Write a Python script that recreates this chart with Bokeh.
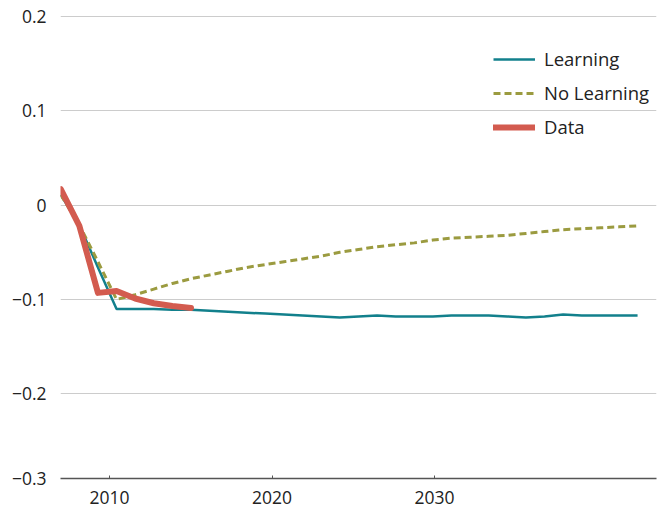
from bokeh.plotting import figure
from bokeh.models import Range1d, FixedTicker, Legend, LegendItem
from bokeh.embed import file_html
from bokeh.resources import INLINE

# ---- data ----
start_year = 2007.0
year_step = 1.145          # spacing between successive observations (years)
n_points = 32
years = [start_year + year_step * i for i in range(n_points)]

learning = [0.011, -0.021, -0.066, -0.110, -0.110, -0.110, -0.111, -0.111,
            -0.112, -0.113, -0.114, -0.115, -0.116, -0.117, -0.118, -0.119,
            -0.118, -0.117, -0.118, -0.118, -0.118, -0.117, -0.117, -0.117,
            -0.118, -0.119, -0.118, -0.116, -0.117, -0.117, -0.117, -0.117]

no_learning = [0.011, -0.021, -0.060, -0.100, -0.095, -0.089, -0.083, -0.078,
               -0.074, -0.070, -0.066, -0.063, -0.060, -0.057, -0.054, -0.050,
               -0.047, -0.044, -0.042, -0.040, -0.037, -0.035, -0.034, -0.033,
               -0.032, -0.030, -0.028, -0.026, -0.025, -0.024, -0.023, -0.022]

data_years = years[:8]
data_vals = [0.017, -0.022, -0.093, -0.091, -0.099, -0.104, -0.107, -0.109]

x_ticks = [2010, 2020, 2030]
y_bottom = -0.2898
y_ticks = [y_bottom, -0.2, -0.1, 0.0, 0.1, 0.2]
y_labels = {y_bottom: "\u22120.3", -0.2: "\u22120.2", -0.1: "\u22120.1",
            0.0: "0", 0.1: "0.1", 0.2: "0.2"}

TEAL = "#12808c"
OLIVE = "#9b9b40"
RED = "#d35b4f"
FONT = "Open Sans"

p = figure(width=659, height=508, output_backend="svg", toolbar_location=None,
           x_range=Range1d(2006.985, 2043.66), y_range=Range1d(y_bottom, 0.2053),
           min_border_left=60, min_border_right=3, min_border_top=11,
           min_border_bottom=30)
p.outline_line_color = None
p.background_fill_color = "white"

# grid
p.xgrid.grid_line_color = None
p.ygrid.grid_line_color = "#cccccc"
p.ygrid.grid_line_width = 1

# y axis
p.yaxis.ticker = FixedTicker(ticks=y_ticks)
p.yaxis.major_label_overrides = y_labels
p.yaxis.axis_line_color = None
p.yaxis.major_tick_line_color = None
p.yaxis.minor_tick_line_color = None
p.yaxis.major_label_standoff = 8
p.yaxis.major_label_text_font = FONT
p.yaxis.major_label_text_font_size = "17.5px"
p.yaxis.major_label_text_color = "#222222"

# x axis
p.xaxis.ticker = FixedTicker(ticks=x_ticks)
p.xaxis.axis_line_color = "#555555"
p.xaxis.axis_line_width = 1.5
p.xaxis.major_tick_line_color = "#555555"
p.xaxis.major_tick_in = 3
p.xaxis.major_tick_out = 0
p.xaxis.minor_tick_line_color = None
p.xaxis.major_label_standoff = 12
p.xaxis.major_label_text_font = FONT
p.xaxis.major_label_text_font_size = "17.5px"
p.xaxis.major_label_text_color = "#222222"

r1 = p.line(years, learning, line_color=TEAL, line_width=2.5)
r2 = p.line(years, no_learning, line_color=OLIVE, line_width=3, line_dash="7 4")
r3 = p.line(data_years, data_vals, line_color=RED, line_width=6,
            line_cap="round", line_join="round")

legend = Legend(items=[LegendItem(label="Learning", renderers=[r1]),
                       LegendItem(label="No Learning", renderers=[r2]),
                       LegendItem(label="Data", renderers=[r3])],
                location=(433, 339))
legend.border_line_color = None
legend.background_fill_alpha = 0
legend.padding = 0
legend.margin = 0
legend.spacing = 9
legend.glyph_width = 42
legend.glyph_height = 20
legend.label_height = 20
legend.label_standoff = 9
legend.label_text_font = FONT
legend.label_text_font_size = "18.5px"
legend.label_text_color = "#222222"
p.add_layout(legend)

html = file_html(p, INLINE)
open("out.html", "w").write(html)
